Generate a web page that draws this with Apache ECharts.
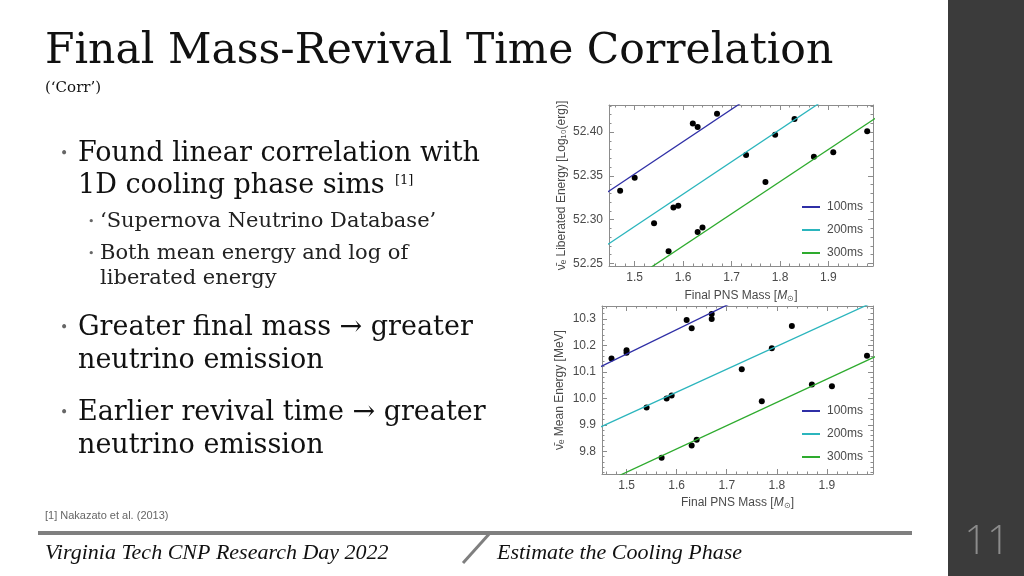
<!DOCTYPE html>
<html><head><meta charset="utf-8">
<script src="https://cdn.jsdelivr.net/npm/echarts@6/dist/echarts.min.js"></script>
<style>html,body{margin:0;padding:0;background:#fff}#c{width:1024px;height:576px}</style>
</head><body><div id="c"></div>
<script>
// ---- data ----
const seriesNames = ['100ms', '200ms', '300ms'];
const massTop = [1.47,1.50,1.54,1.57,1.58,1.59,1.62,1.63,1.63,1.64,1.67,1.73,1.77,1.79,1.83,1.87,1.91,1.98];
const logLiberated = [52.333,52.348,52.296,52.264,52.314,52.316,52.410,52.406,52.286,52.291,52.421,52.374,52.343,52.397,52.415,52.372,52.377,52.401];
const massBottom = [1.47,1.50,1.50,1.54,1.57,1.58,1.59,1.62,1.63,1.63,1.64,1.67,1.67,1.73,1.77,1.79,1.83,1.87,1.91,1.98];
const meanEnergy = [10.151,10.182,10.172,9.965,9.775,9.999,10.011,10.296,10.265,9.822,9.843,10.319,10.300,10.110,9.989,10.189,10.273,10.052,10.046,10.161];
// fit lines: [mass, value] at both ends
const fitTop100 = [[1.44, 52.330], [2.00, 52.537]];
const fitTop200 = [[1.44, 52.270], [2.00, 52.477]];
const fitTop300 = [[1.44, 52.211], [2.00, 52.417]];
const fitBot100 = [[1.44, 10.112], [2.00, 10.629]];
const fitBot200 = [[1.44, 9.885], [2.00, 10.370]];
const fitBot300 = [[1.44, 9.668], [2.00, 10.161]];
const massTicks = [1.5, 1.6, 1.7, 1.8, 1.9];
const topYTicks = [52.25, 52.30, 52.35, 52.40];
const botYTicks = [9.8, 9.9, 10.0, 10.1, 10.2, 10.3];

// ---- styling helpers ----
const frameColor = '#8c8c8c';
const labelColor = '#4a4a4a';
const lineColors = ['#2f2fa6', '#2bb5bd', '#2eab2e'];

function steps(a, b, s) { const r = []; for (let v = a; v <= b + 1e-9; v += s) r.push(+v.toFixed(4)); return r; }

function makeAxes(isX, gridIndex, min, max, majors, minors, fmt, name, nameGap) {
  const pos = isX ? ['bottom', 'top'] : ['left', 'right'];
  const base = { type: 'value', gridIndex, min, max, splitLine: { show: false } };
  const out = [];
  pos.forEach((p, i) => {
    out.push(Object.assign({}, base, {
      position: p,
      axisLine: { show: true, onZero: false, lineStyle: { color: frameColor, width: 1 } },
      axisTick: { show: true, inside: true, length: 5, customValues: majors, lineStyle: { color: frameColor } },
      axisLabel: i === 0 ? { show: true, customValues: majors, formatter: fmt, color: labelColor, fontSize: 12, fontFamily: 'Liberation Sans, Arial', margin: 6 } : { show: false },
      name: i === 0 ? name : '',
      nameLocation: 'middle', nameGap: nameGap,
      nameTextStyle: { color: labelColor, fontSize: 12, fontFamily: 'Liberation Sans, Arial',
        rich: { i: { fontStyle: 'italic', fontSize: 12, color: labelColor }, s: { fontSize: 8, color: labelColor, padding: [6, 0, 0, 0] } } }
    }));
    out.push(Object.assign({}, base, {
      position: p,
      axisLine: { show: false, onZero: false },
      axisTick: { show: true, inside: true, length: 2.5, customValues: minors, lineStyle: { color: frameColor } },
      axisLabel: { show: false }
    }));
  });
  return out;
}

const xMinors = steps(1.46, 1.98, 0.02);
const xAxes = [].concat(
  makeAxes(true, 0, 1.447, 1.992, massTicks, xMinors, v => v.toFixed(1), 'Final PNS Mass [{i|M}{s|⊙}]', 23),
  makeAxes(true, 1, 1.451, 1.992, massTicks, xMinors, v => v.toFixed(1), 'Final PNS Mass [{i|M}{s|⊙}]', 22)
);
const yAxes = [].concat(
  makeAxes(false, 0, 52.247, 52.431, topYTicks, steps(52.25, 52.43, 0.01), v => v.toFixed(2), 'ν̄ₑ Liberated Energy [Log₁₀(erg)]', 41),
  makeAxes(false, 1, 9.714, 10.349, botYTicks, steps(9.72, 10.34, 0.02), v => v.toFixed(1), 'ν̄ₑ Mean Energy [MeV]', 36)
);

const fitsTop = [fitTop100, fitTop200, fitTop300];
const fitsBot = [fitBot100, fitBot200, fitBot300];
const series = [];
[fitsTop, fitsBot].forEach((fits, g) => {
  fits.forEach((d, k) => series.push({
    type: 'line', name: seriesNames[k], xAxisIndex: g * 4, yAxisIndex: g * 4, data: d,
    showSymbol: false, symbol: 'none', clip: true, silent: true,
    lineStyle: { color: lineColors[k], width: 1.3 }, itemStyle: { color: lineColors[k] }
  }));
});
series.push({ type: 'scatter', xAxisIndex: 0, yAxisIndex: 0, data: massTop.map((m, i) => [m, logLiberated[i]]),
  symbolSize: 6, itemStyle: { color: '#000', opacity: 1 } });
series.push({ type: 'scatter', xAxisIndex: 4, yAxisIndex: 4, data: massBottom.map((m, i) => [m, meanEnergy[i]]),
  symbolSize: 6, itemStyle: { color: '#000', opacity: 1 } });

function legendAt(top) {
  return { data: seriesNames, orient: 'vertical', left: 802, top, padding: 0, icon: 'rect', itemWidth: 18, itemHeight: 2,
    itemGap: 9, selectedMode: false,
    textStyle: { color: labelColor, fontSize: 12, fontFamily: 'Liberation Sans, Arial', lineHeight: 14, padding: [0, 0, 0, 2] } };
}

const serif = 'DejaVu Serif';
function txt(x, y, text, size, opts) {
  return { type: 'text', x, y, silent: true, style: Object.assign({ text, font: size + 'px "' + serif + '"', fill: '#111', align: 'left', verticalAlign: 'middle' }, opts || {}) };
}

const graphics = [
  { type: 'rect', shape: { x: 948, y: 0, width: 76, height: 576 }, style: { fill: '#3b3b3b' }, silent: true },
  { type: 'text', x: 987, y: 543, silent: true, style: { text: '11', font: '300 40px "Open Sans", "DejaVu Sans"', fill: '#8c8c8c', align: 'center', verticalAlign: 'middle' } },
  txt(45, 52, 'Final Mass-Revival Time Correlation', 42.5),
  txt(45, 88, '(‘Corr’)', 15),
  txt(60, 154, '•', 14, { fill: '#666' }),
  txt(78, 154, 'Found linear correlation with', 27),
  txt(78, 186, '1D cooling phase sims', 27),
  txt(395, 181, '[1]', 13),
  txt(88, 222, '•', 11, { fill: '#666' }),
  txt(100, 222, '‘Supernova Neutrino Database’', 21, { fill: '#222' }),
  txt(88, 254, '•', 11, { fill: '#666' }),
  txt(100, 254, 'Both mean energy and log of', 21, { fill: '#222' }),
  txt(100, 279, 'liberated energy', 21, { fill: '#222' }),
  txt(60, 328, '•', 14, { fill: '#666' }),
  txt(78, 328, 'Greater final mass → greater', 27),
  txt(78, 361, 'neutrino emission', 27),
  txt(60, 413, '•', 14, { fill: '#666' }),
  txt(78, 413, 'Earlier revival time → greater', 27),
  txt(78, 446, 'neutrino emission', 27),
  { type: 'text', x: 45, y: 516, silent: true, style: { text: '[1] Nakazato et al. (2013)', font: '11px "Liberation Sans"', fill: '#666', align: 'left', verticalAlign: 'middle' } },
  { type: 'rect', shape: { x: 38, y: 531, width: 874, height: 4 }, style: { fill: '#7f7f7f' }, silent: true },
  { type: 'line', shape: { x1: 490, y1: 533, x2: 463, y2: 563 }, style: { stroke: '#7f7f7f', lineWidth: 3 }, silent: true },
  { type: 'text', x: 45, y: 553, silent: true, style: { text: 'Virginia Tech CNP Research Day 2022', font: 'italic 22px "Liberation Serif"', fill: '#111', align: 'left', verticalAlign: 'middle' } },
  { type: 'text', x: 497, y: 553, silent: true, style: { text: 'Estimate the Cooling Phase', font: 'italic 22px "Liberation Serif"', fill: '#111', align: 'left', verticalAlign: 'middle' } }
];

const chart = echarts.init(document.getElementById('c'), null, { renderer: 'canvas' });
chart.setOption({
  backgroundColor: '#ffffff',
  animation: false,
  grid: [
    { left: 609, top: 105, width: 264, height: 161 },
    { left: 602, top: 306, width: 271, height: 168 }
  ],
  xAxis: xAxes,
  yAxis: yAxes,
  legend: [legendAt(200), legendAt(404)],
  series,
  graphic: graphics
});
</script></body></html>
